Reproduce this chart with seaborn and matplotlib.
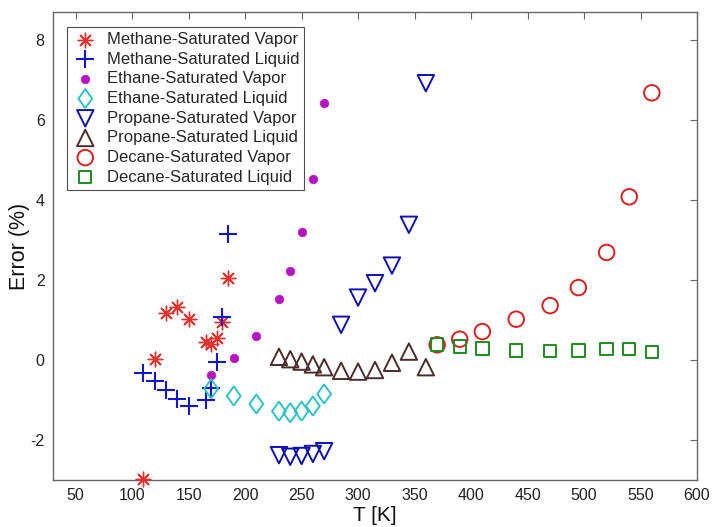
import matplotlib
matplotlib.use("Agg")
import matplotlib.pyplot as plt
import seaborn as sns
import numpy as np

# ---- data ----
methane_vap_T = [110, 120, 130, 140, 150, 165, 170, 175, 180, 185]
methane_vap_E = [-2.97, 0.03, 1.17, 1.33, 1.03, 0.46, 0.40, 0.54, 0.95, 2.04]

methane_liq_T = [110, 120, 130, 140, 150, 165, 170, 175, 180, 185]
methane_liq_E = [-0.33, -0.53, -0.75, -0.98, -1.15, -1.0, -0.70, -0.05, 1.08, 3.15]

ethane_vap_T = [170, 190, 210, 230, 240, 250, 260, 270]
ethane_vap_E = [-0.37, 0.05, 0.60, 1.52, 2.22, 3.20, 4.52, 6.42]

ethane_liq_T = [170, 190, 210, 230, 240, 250, 260, 270]
ethane_liq_E = [-0.72, -0.90, -1.10, -1.28, -1.32, -1.28, -1.15, -0.85]

propane_vap_T = [230, 240, 250, 260, 270, 285, 300, 315, 330, 345, 360]
propane_vap_E = [-2.38, -2.42, -2.40, -2.35, -2.28, 0.88, 1.56, 1.92, 2.36, 3.38, 6.92]

propane_liq_T = [230, 240, 250, 260, 270, 285, 300, 315, 330, 345, 360]
propane_liq_E = [0.08, 0.02, -0.04, -0.11, -0.18, -0.27, -0.29, -0.25, -0.07, 0.21, -0.18]

decane_vap_T = [370, 390, 410, 440, 470, 495, 520, 540, 560]
decane_vap_E = [0.38, 0.52, 0.71, 1.02, 1.36, 1.81, 2.69, 4.08, 6.68]

decane_liq_T = [370, 390, 410, 440, 470, 495, 520, 540, 560]
decane_liq_E = [0.39, 0.34, 0.29, 0.24, 0.22, 0.24, 0.27, 0.28, 0.20]

x_ticks = [50, 100, 150, 200, 250, 300, 350, 400, 450, 500, 550, 600]
y_ticks = [-2, 0, 2, 4, 6, 8]

sns.set_style("white")
plt.rcParams['font.family'] = ['Liberation Sans', 'DejaVu Sans']
plt.rcParams['axes.unicode_minus'] = False

fig = plt.figure(figsize=(7.13, 5.27), dpi=100)
ax = fig.add_axes([0.0743, 0.0892, 0.9033, 0.888])

diamond = [(0, -1.0), (0.72, 0), (0, 1.0), (-0.72, 0), (0, -1.0)]

series = [
    (methane_vap_T, methane_vap_E, "Methane-Saturated Vapor", (8, 2, 0), "#e8302a", 110, "line"),
    (methane_liq_T, methane_liq_E, "Methane-Saturated Liquid", "+", "#1515d0", 160, "line"),
    (ethane_vap_T, ethane_vap_E, "Ethane-Saturated Vapor", "o", "#b515c0", 38, "filled"),
    (ethane_liq_T, ethane_liq_E, "Ethane-Saturated Liquid", diamond, "#2ec4c4", 190, "open"),
    (propane_vap_T, propane_vap_E, "Propane-Saturated Vapor", "v", "#1010b0", 140, "open"),
    (propane_liq_T, propane_liq_E, "Propane-Saturated Liquid", "^", "#4a2c2c", 140, "open"),
    (decane_vap_T, decane_vap_E, "Decane-Saturated Vapor", "o", "#d82020", 125, "open"),
    (decane_liq_T, decane_liq_E, "Decane-Saturated Liquid", "s", "#1f8a1f", 80, "open"),
]

for T, E, lab, mk, col, s, kind in series:
    if kind == "line":
        lw = 1.0 if mk != "+" else 1.5
        sns.scatterplot(x=T, y=E, ax=ax, marker=mk, s=s, color=col,
                        linewidth=lw, label=lab, clip_on=False, zorder=3)
    elif kind == "filled":
        sns.scatterplot(x=T, y=E, ax=ax, marker=mk, s=s, color=col,
                        edgecolor=col, linewidth=0.5, label=lab, clip_on=False, zorder=3)
    else:
        sns.scatterplot(x=T, y=E, ax=ax, marker=mk, s=s, facecolor="none",
                        edgecolor=col, linewidth=1.4, label=lab, clip_on=False, zorder=3)

ax.set_xlim(30, 600)
ax.set_ylim(-3, 8.7)
ax.set_xticks(x_ticks)
ax.set_yticks(y_ticks)
ax.tick_params(direction="in", length=5, width=0.8, color="#666666",
               top=True, right=True, labelsize=11.5, labelcolor="#222222", pad=6)
for sp in ax.spines.values():
    sp.set_color("#666666")
    sp.set_linewidth(1.0)

ax.set_xlabel("T [K]", fontsize=15, color="#111111", labelpad=2)
ax.set_ylabel("Error (%)", fontsize=15.5, color="#111111")
ax.yaxis.set_label_coords(-0.035, 0.5)

leg = ax.legend(loc="upper left", bbox_to_anchor=(0.0217, 0.968), fontsize=12,
                frameon=True, fancybox=False, edgecolor="#222222",
                borderpad=0.3, labelspacing=0.28, handletextpad=0.5,
                handlelength=1.6, borderaxespad=0.0)
leg.get_frame().set_linewidth(0.8)

fig.savefig("out.png", dpi=100, facecolor="white")
